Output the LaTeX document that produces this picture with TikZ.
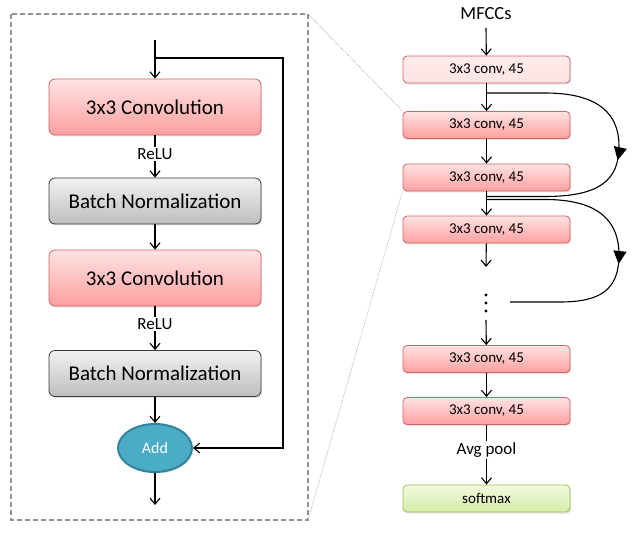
\documentclass[tikz,border=0pt]{standalone}
\usepackage{fontspec}
\setmainfont{Carlito}
\usetikzlibrary{arrows.meta,shadows,decorations.markings,calc,shapes.geometric}
\definecolor{convtop}{HTML}{FFE3E3}
\definecolor{convbot}{HTML}{FF9F9F}
\definecolor{convborder}{HTML}{CF6464}
\definecolor{bntop}{HTML}{F2F2F2}
\definecolor{bnbot}{HTML}{BDBDBD}
\definecolor{bnborder}{HTML}{3A3A3A}
\definecolor{smtop}{HTML}{F2FADF}
\definecolor{smbot}{HTML}{D5EDA6}
\definecolor{smborder}{HTML}{9BBB59}
\definecolor{addfill}{HTML}{4BACC6}
\definecolor{addborder}{HTML}{31849B}
\tikzset{
  arr/.style={-{Straight Barb[length=6pt,width=10pt,line width=1.1pt]}, line width=1.1pt, black},
  shad/.style={drop shadow={opacity=0.22,shadow xshift=1pt,shadow yshift=-1.5pt}},
  bigbox/.style={rounded corners=6pt, minimum width=212pt, inner sep=0pt, line width=0.8pt, shad, font=\fontsize{21}{24}\selectfont},
  convbig/.style={bigbox, draw=convborder, top color=convtop, bottom color=convbot, minimum height=56pt},
  bnbig/.style={bigbox, draw=bnborder, top color=bntop, bottom color=bnbot, minimum height=46pt},
  smallbox/.style={rounded corners=4pt, minimum width=167pt, minimum height=27pt, inner sep=0pt, line width=0.8pt, shad, font=\fontsize{15}{17}\selectfont},
  convsmall/.style={smallbox, draw=convborder, top color=convtop, bottom color=convbot},
  convfirst/.style={smallbox, draw=convborder, top color=convtop!70!white, bottom color=convtop},
  smbox/.style={smallbox, draw=smborder, top color=smtop, bottom color=smbot},
  lbl/.style={fill=white, inner sep=1.5pt, font=\fontsize{17}{19}\selectfont},
  skip/.style={line width=1.1pt, black, postaction={decorate}},
  guide/.style={gray!70, densely dotted, line width=0.7pt}
}
\begin{document}
\begin{tikzpicture}[x=1pt,y=-1pt]
\useasboundingbox (0,0) rectangle (637,545);
% dashed frame
\draw[gray!85, dash pattern=on 5pt off 3pt, line width=1.3pt] (11,14) rectangle (308,520);
\coordinate (frameTR) at (308,14);
\coordinate (frameBR) at (308,520);
% left block
\coordinate (inTop) at (155,40);
\coordinate (br) at (155,58);
\coordinate (rc) at (283,448);
\node[convbig] (c1) at (155,107) {3x3 Convolution};
\node[bnbig] (b1) at (155,201) {Batch Normalization};
\node[convbig] (c2) at (155,278) {3x3 Convolution};
\node[bnbig] (b2) at (155,373.5) {Batch Normalization};
\node[ellipse, draw=addborder, line width=2pt, fill=addfill, minimum width=74pt, minimum height=48pt, inner sep=0pt, text=white, font=\fontsize{16}{18}\selectfont, shad] (add) at (155,448) {Add};
\coordinate (outL) at (155,505);
\draw[arr] (inTop) -- (c1);
\draw[arr] (br) -| (rc) -- (add);
\draw[arr] (c1) -- node[lbl, pos=0.45] {ReLU} (b1);
\draw[arr] (b1) -- (c2);
\draw[arr] (c2) -- node[lbl, pos=0.4] {ReLU} (b2);
\draw[arr] (b2) -- (add);
\draw[arr] (add) -- (outL);
% right column
\node[font=\fontsize{18.5}{20}\selectfont] (mf) at (486,14) {MFCCs};
\node[convfirst] (A) at (486.5,69.5) {3x3 conv, 45};
\node[convsmall] (B) at (486.5,125) {3x3 conv, 45};
\node[convsmall] (C) at (486.5,177.5) {3x3 conv, 45};
\node[convsmall] (D) at (486.5,229.5) {3x3 conv, 45};
\node[convsmall] (E) at (486.5,359) {3x3 conv, 45};
\node[convsmall] (F) at (486.5,411) {3x3 conv, 45};
\node[smbox] (S) at (486.5,498.5) {softmax};
\coordinate (mfA) at (486,28);
\coordinate (Dout) at (486,267);
\coordinate (dotsIn) at (486,320);
\draw[arr] (mfA) -- (A);
\draw[arr] (A) -- (B);
\draw[arr] (B) -- (C);
\draw[arr] (C) -- (D);
\draw[arr] (D) -- (Dout);
\draw[arr] (dotsIn) -- (E);
\draw[arr] (E) -- (F);
\draw[arr] (F) -- node[lbl, pos=0.42] {Avg pool} (S);
\foreach \yy in {295,303,311} \fill (486,\yy) circle (1.7pt);
% skip connections
\coordinate (s1a) at (486,93);
\coordinate (s1b) at (486,196.5);
\coordinate (s2a) at (486,199.5);
\coordinate (s2b) at (510,302);
\draw[skip, decoration={markings, mark=at position 0.545 with {\arrow{Triangle[length=13pt,width=13pt]}}}]
  (s1a) -- (545,93) .. controls (600,93) and (619,115) .. (619,146)
  .. controls (619,180) and (600,196.5) .. (545,196.5) -- (s1b);
\draw[skip, decoration={markings, mark=at position 0.575 with {\arrow{Triangle[length=13pt,width=13pt]}}}]
  (s2a) -- (545,199.5) .. controls (600,199.5) and (619,222) .. (619,255)
  .. controls (619,290) and (600,302) .. (560,302) -- (s2b);
% guide lines
\draw[guide] (frameTR) -- (B.north west);
\draw[guide] (frameBR) -- (C.south west);
\end{tikzpicture}
\end{document}
